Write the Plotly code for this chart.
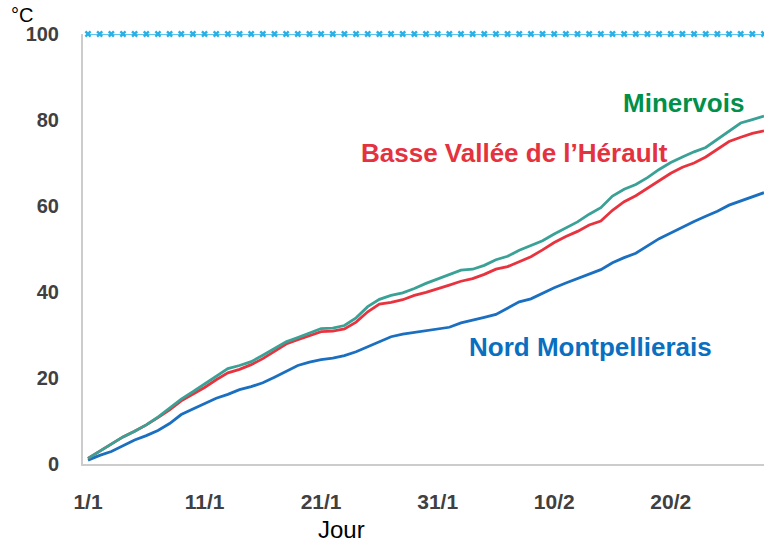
import plotly.graph_objects as go

days = list(range(1, 60))
tick_vals = [1, 11, 21, 31, 41, 51]
tick_text = ["1/1", "11/1", "21/1", "31/1", "10/2", "20/2"]
y_ticks = [0, 20, 40, 60, 80, 100]

minervois = [1.3, 3.0, 4.6, 6.3, 7.6, 9.1, 10.9, 12.9, 15.1, 16.8,
             18.6, 20.5, 22.2, 22.9, 23.8, 25.3, 26.8, 28.4, 29.4, 30.4,
             31.5, 31.6, 32.2, 34.0, 36.6, 38.3, 39.2, 39.8, 40.8, 42.0,
             43.0, 44.0, 45.1, 45.3, 46.2, 47.5, 48.3, 49.7, 50.8, 51.9,
             53.5, 55.0, 56.3, 58.1, 59.6, 62.3, 63.9, 65.0, 66.6, 68.5,
             70.1, 71.4, 72.6, 73.6, 75.5, 77.6, 79.3, 80.1, 80.9]
basse_vallee = [1.3, 2.9, 4.6, 6.3, 7.6, 9.1, 10.8, 12.6, 14.7, 16.2,
                17.8, 19.6, 21.2, 22.0, 23.1, 24.5, 26.2, 27.9, 28.9, 29.8,
                30.8, 30.9, 31.4, 33.0, 35.4, 37.2, 37.6, 38.2, 39.2, 39.9,
                40.7, 41.6, 42.5, 43.1, 44.1, 45.3, 45.9, 47.0, 48.2, 49.8,
                51.5, 52.9, 54.1, 55.6, 56.5, 59.0, 61.0, 62.4, 64.2, 66.0,
                67.6, 69.0, 70.0, 71.4, 73.2, 75.0, 76.0, 76.9, 77.5]
nord_montpellierais = [0.9, 2.0, 2.9, 4.2, 5.6, 6.6, 7.8, 9.4, 11.5, 12.8,
                       14.1, 15.3, 16.2, 17.3, 18.0, 18.9, 20.2, 21.6, 22.9, 23.7,
                       24.3, 24.6, 25.2, 26.1, 27.3, 28.4, 29.6, 30.2, 30.6, 31.1,
                       31.4, 31.8, 32.8, 33.4, 34.1, 34.8, 36.2, 37.7, 38.4, 39.7,
                       41.0, 42.1, 43.1, 44.2, 45.2, 46.8, 48.0, 49.0, 50.6, 52.4,
                       53.7, 55.1, 56.4, 57.6, 58.8, 60.2, 61.2, 62.2, 63.1]
seuil = [100] * len(days)

fig = go.Figure()
fig.add_trace(go.Scatter(x=days, y=seuil, mode="lines+markers",
                         line=dict(color="#29b0e6", width=1.5),
                         marker=dict(symbol="x", size=6, color="#29b0e6"),
                         cliponaxis=False, showlegend=False))
fig.add_trace(go.Scatter(x=days, y=nord_montpellierais, mode="lines",
                         line=dict(color="#1a6fc0", width=2.8), showlegend=False))
fig.add_trace(go.Scatter(x=days, y=basse_vallee, mode="lines",
                         line=dict(color="#e8333f", width=2.8), showlegend=False))
fig.add_trace(go.Scatter(x=days, y=minervois, mode="lines",
                         line=dict(color="#3aa196", width=2.8), showlegend=False))

fam = "Liberation Sans, Arial, sans-serif"

fig.update_layout(
    template="none",
    width=764, height=545,
    margin=dict(l=83, r=0, t=34, b=81),
    paper_bgcolor="white", plot_bgcolor="white",
    font=dict(family=fam),
    xaxis=dict(range=[0.57, 59], tickvals=tick_vals, ticktext=tick_text,
               automargin=False,
               showgrid=False, zeroline=False, showline=True,
               linecolor="#cccccc", linewidth=2,
               ticks="outside", ticklen=18, tickcolor="rgba(0,0,0,0)",
               tickfont=dict(family=fam, size=21, color="#404040", weight="bold")),
    yaxis=dict(range=[0, 100], tickvals=y_ticks,
               automargin=False,
               showgrid=False, zeroline=False, showline=True,
               linecolor="#cccccc", linewidth=2,
               ticks="outside", ticklen=18, tickcolor="rgba(0,0,0,0)",
               tickfont=dict(family=fam, size=20, color="#404040", weight="bold")),
    annotations=[
        dict(x=52.1, y=84, xref="x", yref="y", text="<b>Minervois</b>",
             showarrow=False, font=dict(size=26, color="#00904a")),
        dict(x=37.6, y=72.3, xref="x", yref="y", text="<b>Basse Vallée de l’Hérault</b>",
             showarrow=False, font=dict(size=26, color="#e4323f")),
        dict(x=44.1, y=27.2, xref="x", yref="y", text="<b>Nord Montpellierais</b>",
             showarrow=False, font=dict(size=26, color="#0a6fc0")),
        dict(x=-0.0896, y=1.044, xref="paper", yref="paper", text="°C",
             xanchor="center", yanchor="middle",
             showarrow=False, font=dict(size=20, color="black")),
        dict(x=0.380, y=-0.153, xref="paper", yref="paper", text="Jour",
             xanchor="center", yanchor="middle",
             showarrow=False, font=dict(size=24, color="black")),
    ],
)

fig.write_html("out.html", config={"displayModeBar": False},
               post_script="document.body.style.margin='0';document.body.style.overflow='hidden';")
